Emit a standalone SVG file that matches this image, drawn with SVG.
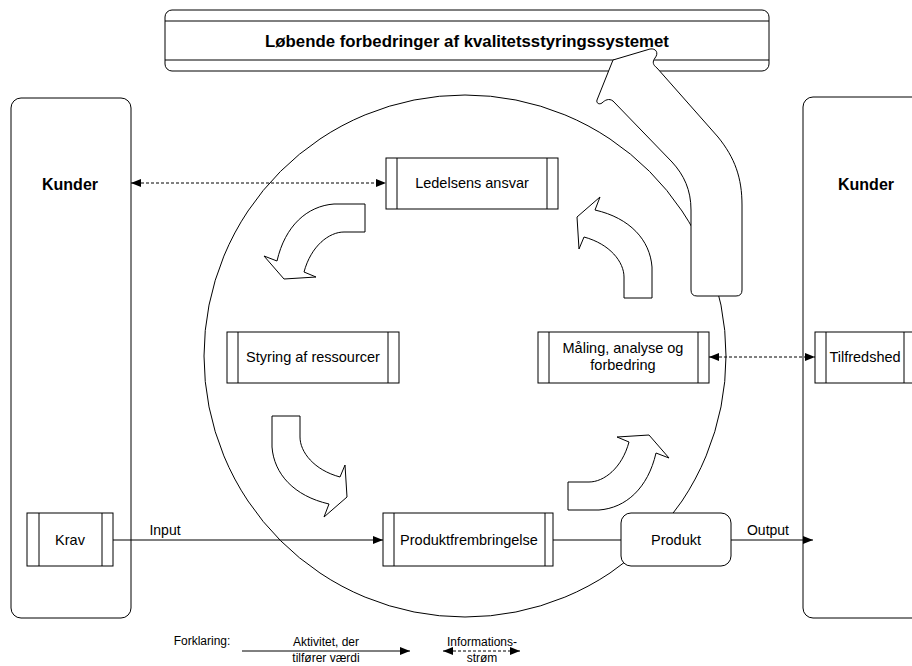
<svg xmlns="http://www.w3.org/2000/svg" width="912" height="666" viewBox="0 0 912 666">
<style>
.box{fill:#fff;stroke:#000;stroke-width:1}
.in{stroke:#000;stroke-width:1;fill:none}
.t{font-family:"Liberation Sans",Arial,sans-serif;font-size:14.5px;fill:#000;text-anchor:middle}
.b{font-weight:bold}
.lg{font-size:12px}
.ln{stroke:#000;stroke-width:1;fill:none}
.dot{stroke:#000;stroke-width:1;fill:none;stroke-dasharray:3,2}
.blk{fill:#fff;stroke:#000;stroke-width:1;stroke-linejoin:round}
</style>
<defs>
<marker id="ah" markerUnits="userSpaceOnUse" markerWidth="12" markerHeight="10" refX="10" refY="4" orient="auto-start-reverse">
<path d="M0,0 L10,4 L0,8 Z" fill="#000"/>
</marker>
<path id="carrow" d="M-14,0 L14,0 L14,-31 C12,-58 -8,-80 -43,-88 L-38,-101 L-61,-81 L-59,-49 L-54,-61 C-28,-54 -14,-36 -14,-21 Z"/>
</defs>
<rect width="912" height="666" fill="#fff"/>

<g id="kunder-left">
<rect class="box" x="11" y="98" width="120" height="520" rx="10"/>
<text class="t b" x="70" y="190" style="font-size:16px">Kunder</text>
</g>
<g id="kunder-right">
<rect class="box" x="803" y="97" width="124" height="521" rx="10"/>
<text class="t b" x="866" y="190" style="font-size:16px">Kunder</text>
</g>

<g id="cycle">
<circle cx="465" cy="356" r="261" fill="none" stroke="#000" stroke-width="1"/>
</g>

<g id="banner">
<rect class="box" x="165" y="10" width="604" height="61" rx="7"/>
<line class="in" x1="165" y1="21" x2="769" y2="21"/>
<line class="in" x1="165" y1="60" x2="769" y2="60"/>
<text class="t b" x="467" y="47" style="font-size:16.8px">Løbende forbedringer af kvalitetsstyringssystemet</text>
</g>

<g id="ledelsens-ansvar">
<rect class="box" x="386" y="158" width="172" height="51"/>
<line class="in" x1="397" y1="158" x2="397" y2="209"/>
<line class="in" x1="547" y1="158" x2="547" y2="209"/>
<text class="t" x="472" y="188">Ledelsens ansvar</text>
</g>
<g id="styring">
<rect class="box" x="227" y="332" width="172" height="51"/>
<line class="in" x1="238" y1="332" x2="238" y2="383"/>
<line class="in" x1="388" y1="332" x2="388" y2="383"/>
<text class="t" x="313" y="362">Styring af ressourcer</text>
</g>
<g id="maaling">
<rect class="box" x="538" y="332" width="171" height="51"/>
<line class="in" x1="549" y1="332" x2="549" y2="383"/>
<line class="in" x1="698" y1="332" x2="698" y2="383"/>
<text class="t" x="623" y="353">Måling, analyse og</text>
<text class="t" x="623" y="370">forbedring</text>
</g>
<g id="tilfredshed">
<rect class="box" x="815" y="332" width="100" height="51"/>
<line class="in" x1="826" y1="332" x2="826" y2="383"/>
<line class="in" x1="904" y1="332" x2="904" y2="383"/>
<text class="t" x="865" y="362">Tilfredshed</text>
</g>
<g id="krav">
<rect class="box" x="27" y="513" width="86" height="53"/>
<line class="in" x1="39" y1="513" x2="39" y2="566"/>
<line class="in" x1="102" y1="513" x2="102" y2="566"/>
<text class="t" x="70" y="545">Krav</text>
</g>
<g id="produktfrembringelse">
<rect class="box" x="383" y="513" width="170" height="53"/>
<line class="in" x1="394" y1="513" x2="394" y2="566"/>
<line class="in" x1="545" y1="513" x2="545" y2="566"/>
<text class="t" x="469" y="545">Produktfrembringelse</text>
</g>
<g id="produkt">
<rect class="box" x="621" y="513" width="110" height="53" rx="10"/>
<text class="t" x="676" y="545">Produkt</text>
</g>

<g id="flow-arrows">
<use href="#carrow" class="blk" transform="translate(365,218) rotate(-90)"/>
<use href="#carrow" class="blk" transform="translate(638,298)"/>
<use href="#carrow" class="blk" transform="translate(286,416) rotate(180)"/>
<use href="#carrow" class="blk" transform="translate(568,496) rotate(90)"/>
</g>
<g id="improvement-arrow">
<path class="blk" d="M697,296 Q691,296 691,290 L691,210 C691,190 684,175 672,162 L613,101 C609,98 605,100 602,103 C599,105 596,103 597,100 L613,60 L650,49 C656,48 659,53 655,58 C652,62 653,65 657,68 L718,137 C735,158 742,178 742,205 L742,290 Q742,296 736,296 Z"/>
</g>

<g id="connectors">
<line class="dot" x1="131" y1="183" x2="386" y2="183" marker-start="url(#ah)" marker-end="url(#ah)"/>
<line class="dot" x1="709" y1="357" x2="815" y2="357" marker-start="url(#ah)" marker-end="url(#ah)"/>
<line class="ln" x1="113" y1="540" x2="383" y2="540" marker-end="url(#ah)"/>
<text class="t" x="165" y="535" style="font-size:14px">Input</text>
<line class="ln" x1="553" y1="540" x2="621" y2="540"/>
<line class="ln" x1="731" y1="540" x2="813" y2="540" marker-end="url(#ah)"/>
<text class="t" x="768" y="535" style="font-size:14px">Output</text>
</g>

<g id="legend">
<text class="t lg" x="202" y="645">Forklaring:</text>
<line class="ln" x1="242" y1="651" x2="410" y2="651" marker-end="url(#ah)"/>
<text class="t lg" x="326" y="646">Aktivitet, der</text>
<text class="t lg" x="326" y="662">tilfører værdi</text>
<line class="dot" x1="443" y1="651" x2="520" y2="651" marker-start="url(#ah)" marker-end="url(#ah)"/>
<text class="t lg" x="482" y="646">Informations-</text>
<text class="t lg" x="482" y="662">strøm</text>
</g>
</svg>
